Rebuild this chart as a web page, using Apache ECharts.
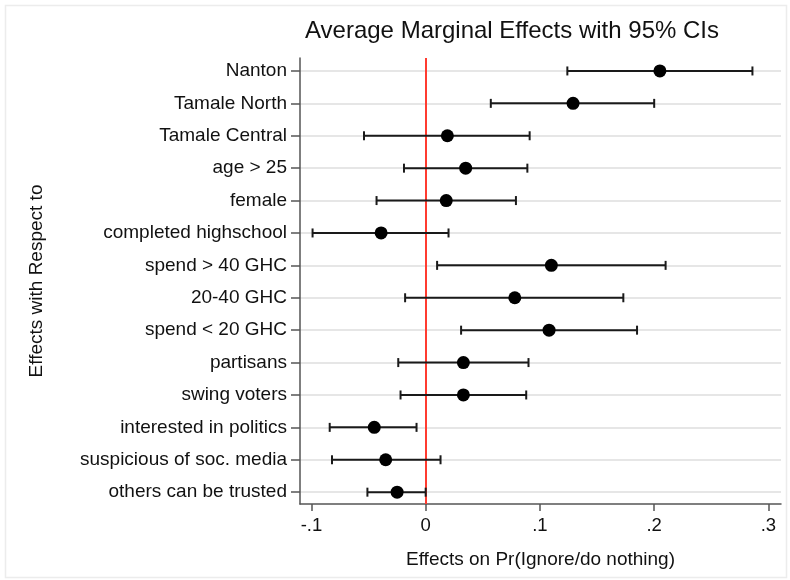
<!DOCTYPE html>
<html>
<head>
<meta charset="utf-8">
<script src="https://cdn.jsdelivr.net/npm/echarts@6/dist/echarts.min.js"></script>
<style>
  html, body { margin: 0; padding: 0; background: #fff; }
  #chart { width: 790px; height: 580px; }
</style>
</head>
<body>
<div id="chart"></div>
<script>
const categories = [
  'Nanton', 'Tamale North', 'Tamale Central', 'age > 25', 'female',
  'completed highschool', 'spend > 40 GHC', '20-40 GHC', 'spend < 20 GHC',
  'partisans', 'swing voters', 'interested in politics',
  'suspicious of soc. media', 'others can be trusted'
];
const estimates = [0.205, 0.129, 0.019, 0.035, 0.018, -0.039, 0.110, 0.078, 0.108, 0.033, 0.033, -0.045, -0.035, -0.025];
const lower = [0.124, 0.057, -0.054, -0.019, -0.043, -0.099, 0.010, -0.018, 0.031, -0.024, -0.022, -0.084, -0.082, -0.051];
const upper = [0.286, 0.200, 0.091, 0.089, 0.079, 0.020, 0.210, 0.173, 0.185, 0.090, 0.088, -0.008, 0.013, 0.000];
const xTicks = [-0.1, 0, 0.1, 0.2, 0.3];
const xTickLabels = ['-.1', '0', '.1', '.2', '.3'];

const rows = categories.map((c, i) => i + 1);
const font = '"Liberation Sans", Arial, sans-serif';

const chart = echarts.init(document.getElementById('chart'));

const option = {
  animation: false,
  backgroundColor: '#fff',
  textStyle: { fontFamily: font },
  title: {
    text: 'Average Marginal Effects with 95% CIs',
    left: 507,
    top: 14,
    textAlign: 'center',
    textStyle: { fontSize: 24, fontWeight: 'normal', color: '#111', fontFamily: font }
  },
  graphic: [
    {
      type: 'rect',
      shape: { x: 5.5, y: 5.5, width: 781, height: 572 },
      style: { fill: 'none', stroke: '#ececec', lineWidth: 1.5 },
      silent: true
    }
  ],
  grid: { left: 300, right: 9, top: 58, bottom: 76 },
  xAxis: {
    type: 'value',
    min: -0.11,
    max: 0.311,
    name: 'Effects on Pr(Ignore/do nothing)',
    nameLocation: 'middle',
    nameGap: 46,
    nameTextStyle: { fontSize: 19, color: '#111', fontFamily: font },
    axisLine: { show: true, onZero: false, lineStyle: { color: '#555', width: 1.5 } },
    axisTick: { show: true, length: 7, customValues: xTicks, lineStyle: { color: '#555', width: 1.5 } },
    axisLabel: {
      customValues: xTicks,
      fontSize: 18.5,
      color: '#111',
      margin: 12,
      formatter: (v) => {
        const i = xTicks.findIndex((t) => Math.abs(t - v) < 1e-9);
        return i >= 0 ? xTickLabels[i] : '';
      }
    },
    splitLine: { show: false }
  },
  yAxis: {
    type: 'value',
    inverse: true,
    min: 0.6,
    max: 14.365,
    name: 'Effects with Respect to',
    nameLocation: 'middle',
    nameGap: 254,
    nameRotate: 90,
    nameTextStyle: { fontSize: 19, color: '#111', fontFamily: font },
    axisLine: { show: true, onZero: false, lineStyle: { color: '#555', width: 1.5 } },
    axisTick: { show: true, length: 9, customValues: rows, lineStyle: { color: '#555', width: 1.5 } },
    axisLabel: {
      customValues: rows,
      fontSize: 19,
      color: '#111',
      margin: 13,
      formatter: (v) => categories[Math.round(v) - 1] || ''
    },
    splitLine: { show: true, lineStyle: { color: '#e6e6e6', width: 2 } }
  },
  series: [
    {
      type: 'custom',
      name: 'CI',
      silent: true,
      data: categories.map((c, i) => [lower[i], upper[i], i + 1]),
      encode: { x: [0, 1], y: 2 },
      renderItem: (params, api) => {
        const a = api.coord([api.value(0), api.value(2)]);
        const b = api.coord([api.value(1), api.value(2)]);
        const cap = 4.5;
        const style = { stroke: '#1a1a1a', lineWidth: 2, fill: 'none' };
        return {
          type: 'group',
          children: [
            { type: 'line', shape: { x1: a[0], y1: a[1], x2: b[0], y2: b[1] }, style },
            { type: 'line', shape: { x1: a[0], y1: a[1] - cap, x2: a[0], y2: a[1] + cap }, style },
            { type: 'line', shape: { x1: b[0], y1: b[1] - cap, x2: b[0], y2: b[1] + cap }, style }
          ]
        };
      },
      z: 3
    },
    {
      type: 'scatter',
      name: 'Estimate',
      symbol: 'circle',
      symbolSize: 13,
      itemStyle: { color: '#000', opacity: 1 },
      data: categories.map((c, i) => [estimates[i], i + 1]),
      z: 4,
      markLine: {
        silent: true,
        symbol: 'none',
        label: { show: false },
        lineStyle: { color: '#ff3b30', width: 2, type: 'solid' },
        data: [{ xAxis: 0 }],
        z: 2
      }
    }
  ]
};

chart.setOption(option);
</script>
</body>
</html>
